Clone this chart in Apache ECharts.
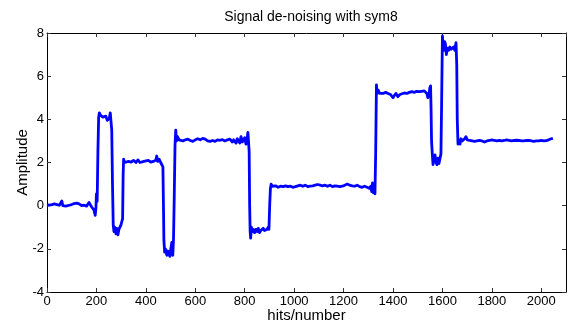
<!DOCTYPE html>
<html>
<head>
<meta charset="utf-8">
<script src="https://cdn.jsdelivr.net/npm/echarts@6/dist/echarts.min.js"></script>
<style>
  html, body { margin: 0; padding: 0; background: #fff; }
  #chart { width: 569px; height: 324px; }
</style>
</head>
<body>
<div id="chart"></div>
<script>
// sample index (hits/number) and de-noised amplitude
const sampleIdx = [
  0, 10, 20, 30, 40, 50, 55, 60, 64, 68, 72, 76, 80, 90, 100, 110, 120, 130, 140, 150,
  160, 165, 170, 175, 180, 185, 190, 195, 198, 200, 203, 206, 209, 212, 216, 220, 226, 232, 238, 244,
  248, 252, 256, 259, 262, 265, 268, 271, 275, 279, 283, 287, 291, 295, 299, 303, 306, 308, 310, 314,
  322, 330, 340, 350, 360, 368, 376, 384, 392, 400, 410, 420, 430, 440, 444, 448, 454, 460, 466, 469,
  471, 473, 476, 479, 485, 489, 493, 497, 501, 505, 509, 512, 515, 518, 521, 524, 528, 534, 540, 550,
  560, 570, 580, 590, 600, 610, 620, 630, 640, 650, 660, 670, 680, 690, 700, 710, 720, 730, 740, 750,
  755, 760, 765, 770, 775, 780, 785, 790, 795, 800, 805, 810, 813, 816, 818, 820, 822, 824, 827, 831,
  835, 840, 845, 850, 855, 860, 865, 870, 875, 880, 885, 890, 895, 898, 901, 904, 907, 912, 918, 925,
  935, 945, 955, 965, 975, 985, 995, 1005, 1015, 1025, 1035, 1045, 1055, 1065, 1075, 1085, 1095, 1105, 1115, 1125,
  1135, 1145, 1155, 1165, 1175, 1185, 1195, 1205, 1215, 1225, 1235, 1245, 1255, 1265, 1275, 1285, 1295, 1305, 1310, 1314,
  1317, 1320, 1324, 1327, 1330, 1333, 1336, 1340, 1346, 1352, 1360, 1370, 1380, 1390, 1400, 1405, 1412, 1420, 1428, 1436,
  1446, 1456, 1466, 1476, 1486, 1496, 1506, 1516, 1526, 1532, 1537, 1541, 1545, 1549, 1552, 1554, 1556, 1559, 1562, 1566,
  1570, 1574, 1578, 1582, 1586, 1590, 1594, 1597, 1600, 1603, 1606, 1609, 1612, 1616, 1620, 1625, 1630, 1635, 1640, 1645,
  1650, 1655, 1658, 1660, 1663, 1667, 1671, 1675, 1680, 1685, 1690, 1695, 1700, 1710, 1720, 1730, 1740, 1750, 1760, 1770,
  1780, 1790, 1800, 1810, 1820, 1830, 1840, 1850, 1860, 1870, 1880, 1890, 1900, 1910, 1920, 1930, 1940, 1950, 1960, 1970,
  1980, 1990, 2000, 2010, 2020, 2030, 2040, 2047
];
const amplitude = [
  0.02, 0.03, 0.05, 0.08, 0.05, 0.02, 0.0, 0.22, 0.0, -0.05, 0.08, -0.02, 0.05, 0.02, 0.05, 0.1, 0.12, 0.08, 0.0, 0.02,
  -0.02, 0.03, 0.15, 0.05, -0.05, 0.0, -0.2, -0.45, -0.1, 0.55, 0.2, 2.5, 4.1, 4.3, 4.2, 4.25, 4.1, 4.05, 4.15, 3.95,
  3.88, 4.05, 4.3, 4.38, 3.5, 1.0, -0.9, -1.2, -1.0, -1.3, -1.05, -1.35, -1.1, -1.05, -0.9, -0.95, -0.6, 1.4, 2.15, 2.0,
  1.95, 2.05, 2.02, 2.1, 2.0, 2.12, 2.0, 1.95, 2.05, 2.0, 2.1, 2.02, 2.05, 2.1, 2.3, 2.05, 2.15, 2.0, 1.95, 1.8,
  0.2, -1.6, -2.15, -2.0, -2.3, -2.1, -2.2, -2.35, -2.0, -1.7, -2.3, -1.5, 0.5, 2.8, 3.5, 3.0, 3.2, 3.05, 3.1, 3.0,
  3.05, 3.08, 3.02, 2.98, 3.05, 3.1, 3.05, 3.12, 3.08, 3.0, 2.98, 3.02, 2.98, 3.05, 3.03, 3.06, 3.0, 3.05, 3.08, 2.95,
  3.05, 3.0, 2.9, 3.1, 3.0, 2.9, 3.2, 2.95, 2.9, 3.15, 2.85, 3.1, 3.4, 3.45, 2.5, 0.0, -1.2, -1.5, -1.0, -1.2,
  -1.1, -1.25, -1.1, -1.2, -1.05, -1.25, -1.15, -1.2, -1.05, -1.15, -1.2, -1.1, -1.0, -1.1, 0.0, 0.8, 1.0, 0.9, 0.95, 0.92,
  0.85, 0.9, 0.88, 0.92, 0.88, 0.9, 0.85, 0.88, 0.92, 0.95, 0.9, 0.95, 0.88, 0.9, 0.92, 0.95, 0.98, 0.95, 0.92, 0.95,
  0.9, 0.95, 0.88, 0.92, 0.9, 0.88, 0.9, 0.95, 1.0, 0.95, 0.92, 0.9, 0.95, 0.88, 0.85, 0.9, 0.85, 0.8, 0.9, 0.65,
  1.05, 0.6, 0.75, 0.55, 2.5, 5.6, 5.2, 5.35, 5.2, 5.15, 5.2, 5.25, 5.2, 5.15, 5.0, 5.1, 5.2, 5.05, 5.15, 5.2,
  5.22, 5.2, 5.25, 5.28, 5.25, 5.3, 5.28, 5.3, 5.32, 5.35, 5.2, 5.0, 5.1, 5.45, 5.55, 4.5, 3.0, 2.4, 1.9, 2.2,
  2.35, 2.0, 1.9, 2.2, 1.95, 2.0, 2.4, 5.0, 7.86, 7.4, 7.2, 7.6, 7.5, 7.0, 7.3, 7.2, 7.35, 7.25, 7.3, 7.35,
  7.2, 7.55, 6.5, 4.0, 2.85, 3.0, 2.85, 3.1, 3.0, 2.95, 3.1, 3.2, 3.05, 3.02, 3.0, 2.98, 3.0, 3.02, 3.0, 2.95,
  3.0, 3.02, 3.05, 3.02, 3.0, 3.02, 3.0, 3.02, 3.05, 3.02, 3.0, 3.02, 3.03, 3.02, 3.0, 3.0, 3.02, 3.02, 3.0, 2.98,
  3.0, 3.0, 3.02, 3.0, 3.01, 3.05, 3.1, 3.12
];
const xTicks = { min: 0, max: 2100, interval: 200 };
const yTicks = { min: -4, max: 8, interval: 2 };

const chart = echarts.init(document.getElementById('chart'), null, { renderer: 'canvas' });

const font = 'Liberation Sans, Arial, sans-serif';
const boxAxisLine = { show: true, onZero: false, lineStyle: { color: '#000', width: 1 } };
const tickStyle = { show: true, inside: true, length: 4, lineStyle: { color: '#333' } };

chart.setOption({
  animation: false,
  backgroundColor: '#fff',
  title: {
    text: 'Signal de-noising with sym8',
    left: 306,
    textAlign: 'center',
    top: 5,
    textStyle: { fontFamily: font, fontSize: 14, fontWeight: 'normal', color: '#000' }
  },
  grid: { left: 47, right: 3, top: 33, bottom: 32, outerBoundsMode: 'none', containLabel: false },
  xAxis: [
    {
      type: 'value',
      position: 'bottom',
      min: xTicks.min, max: xTicks.max, interval: xTicks.interval,
      name: 'hits/number',
      nameLocation: 'middle',
      nameGap: 16,
      nameMoveOverlap: false,
      nameTextStyle: { fontFamily: font, fontSize: 15, color: '#000' },
      axisLine: boxAxisLine,
      axisTick: tickStyle,
      axisLabel: {
        fontFamily: font, fontSize: 13, color: '#000', margin: 3,
        showMaxLabel: false,
        formatter: v => String(v)
      },
      splitLine: { show: false }
    },
    {
      type: 'value',
      position: 'top',
      min: xTicks.min, max: xTicks.max, interval: xTicks.interval,
      axisLine: boxAxisLine,
      axisTick: tickStyle,
      axisLabel: { show: false },
      splitLine: { show: false }
    }
  ],
  yAxis: [
    {
      type: 'value',
      position: 'left',
      min: yTicks.min, max: yTicks.max, interval: yTicks.interval,
      name: 'Amplitude',
      nameLocation: 'middle',
      nameGap: 17,
      nameMoveOverlap: false,
      nameTextStyle: { fontFamily: font, fontSize: 15, color: '#000' },
      axisLine: boxAxisLine,
      axisTick: tickStyle,
      axisLabel: { fontFamily: font, fontSize: 13, color: '#000', margin: 3 },
      splitLine: { show: false }
    },
    {
      type: 'value',
      position: 'right',
      min: yTicks.min, max: yTicks.max, interval: yTicks.interval,
      axisLine: boxAxisLine,
      axisTick: tickStyle,
      axisLabel: { show: false },
      splitLine: { show: false }
    }
  ],
  series: [
    {
      type: 'line',
      xAxisIndex: 0,
      yAxisIndex: 0,
      data: sampleIdx.map((x, i) => [x, amplitude[i]]),
      showSymbol: false,
      lineStyle: { color: '#0000ff', width: 2.8, join: 'round' },
      itemStyle: { color: '#0000ff' }
    }
  ]
});
</script>
</body>
</html>
